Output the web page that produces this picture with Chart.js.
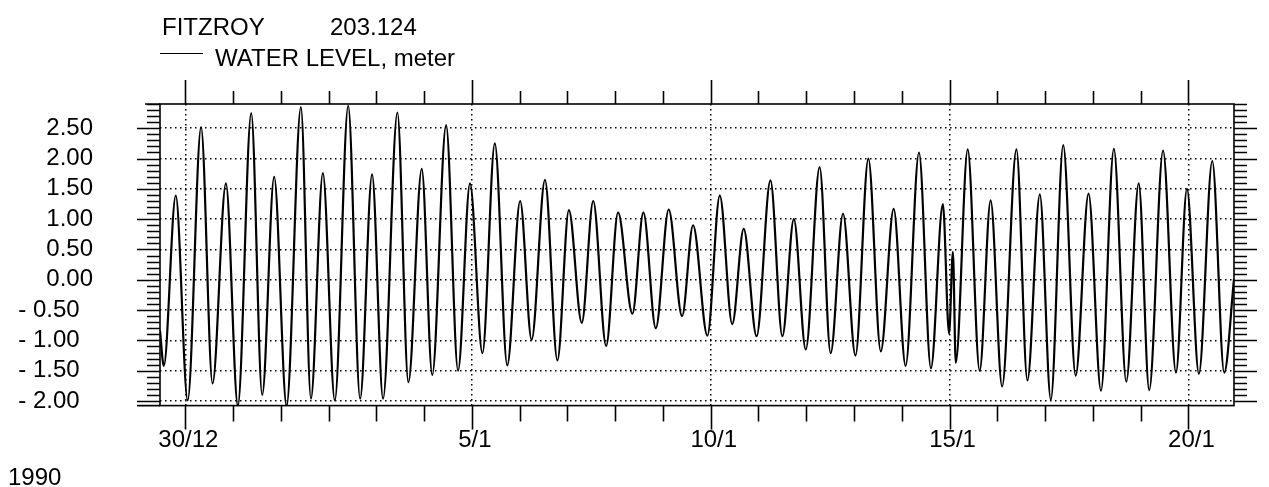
<!DOCTYPE html>
<html>
<head>
<meta charset="utf-8">
<title>FITZROY 203.124</title>
<script src="https://cdn.jsdelivr.net/npm/chart.js@4/dist/chart.umd.min.js"></script>
<style>
  html, body { margin: 0; padding: 0; background: #fff; }
  canvas { display: block; }
</style>
</head>
<body>
<canvas id="levelChart" width="1269" height="487"></canvas>
<script>
// --- Data: water level extremes, time in days from 30/12/1989 00:00 ---
const levelDays = [
  -0.53, -0.45, -0.20, 0.05, 0.33, 0.57, 0.85, 1.10, 1.38, 1.61,
  1.86, 2.12, 2.42, 2.63, 2.88, 3.13, 3.41, 3.66, 3.91, 4.14,
  4.44, 4.67, 4.95, 5.17, 5.46, 5.71, 5.96, 6.22, 6.48, 6.74,
  7.01, 7.25, 7.53, 7.79, 8.03, 8.30, 8.54, 8.81, 9.06, 9.36,
  9.59, 9.85, 10.12, 10.40, 10.63, 10.93, 11.19, 11.45, 11.69, 11.96,
  12.25, 12.50, 12.74, 12.99, 13.28, 13.51, 13.77, 14.03, 14.30, 14.56,
  14.83, 15.08, 15.36, 15.61, 15.86, 15.99, 16.07, 16.13, 16.38, 16.63,
  16.86, 17.10, 17.40, 17.63, 17.89, 18.12, 18.38, 18.64, 18.91, 19.17,
  19.44, 19.70, 19.96, 20.18, 20.47, 20.74, 20.97, 21.22, 21.50, 21.75,
  21.955
];
const levelValues = [
  -0.84, -1.42, 1.39, -1.99, 2.52, -1.71, 1.59, -2.08, 2.75, -1.90,
  1.70, -2.08, 2.85, -1.96, 1.76, -1.99, 2.87, -1.96, 1.74, -1.96,
  2.76, -1.69, 1.83, -1.57, 2.55, -1.50, 1.59, -1.21, 2.25, -1.41,
  1.30, -0.99, 1.65, -1.33, 1.15, -0.71, 1.30, -1.09, 1.11, -0.56,
  1.11, -0.80, 1.16, -0.60, 0.90, -0.92, 1.39, -0.73, 0.84, -0.93,
  1.64, -0.93, 1.00, -1.15, 1.86, -1.21, 1.09, -1.25, 2.00, -1.18,
  1.17, -1.42, 2.10, -1.46, 1.25, -0.89, 0.46, -1.37, 2.15, -1.50,
  1.31, -1.76, 2.15, -1.66, 1.41, -1.98, 2.22, -1.58, 1.42, -1.83,
  2.16, -1.68, 1.59, -1.82, 2.13, -1.53, 1.50, -1.55, 1.96, -1.53,
  0.01
];

// Axis ticks
const labelDays   = [0, 6, 11, 16, 21];
const dayLabels   = ['30/12', '5/1', '10/1', '15/1', '20/1'];
const levelTicks  = [-2.0, -1.5, -1.0, -0.5, 0.0, 0.5, 1.0, 1.5, 2.0, 2.5];

// Header texts
const stationName = 'FITZROY';
const stationCode = '203.124';
const seriesLabel = 'WATER LEVEL, meter';
const yearLabel   = '1990';

const ink  = '#000';
const FONT = '"Liberation Sans", Arial, sans-serif';

// --- Helper: level label, negatives written "- 0.50" ---
function levelLabel(v) {
  if (v >= 0) return v.toFixed(2);
  return '- ' + (-v).toFixed(2) + '  ';
}

// --- Frame, outside ticks and header ---
const framePlugin = {
  id: 'frame',
  afterDraw(chart) {
    const { ctx, chartArea: a, scales: { x, y } } = chart;
    ctx.save();
    ctx.strokeStyle = ink;
    ctx.lineWidth = 1.6;
    ctx.strokeRect(a.left, a.top, a.right - a.left, a.bottom - a.top);

    ctx.beginPath();
    ctx.moveTo(a.left - 23, a.bottom); ctx.lineTo(a.left, a.bottom);
    ctx.moveTo(a.left - 15, a.top);    ctx.lineTo(a.left, a.top);

    // one tick per day, below and above
    for (let d = 0; d <= 21; d++) {
      const px = Math.round(x.getPixelForValue(d)) + 0.5;
      const major = labelDays.includes(d);
      ctx.moveTo(px, a.bottom); ctx.lineTo(px, a.bottom + (major ? 24 : 16));
      ctx.moveTo(px, a.top);    ctx.lineTo(px, a.top - (major ? 24 : 13));
    }
    // 0.1 m ticks on both sides, longer every 0.5 m
    for (let k = -20; k <= 29; k++) {
      const py = Math.round(y.getPixelForValue(k / 10)) + 0.5;
      const len = k % 5 === 0 ? 23 : 13;
      ctx.moveTo(a.left - len, py); ctx.lineTo(a.left, py);
      ctx.moveTo(a.right, py);      ctx.lineTo(a.right + len, py);
    }
    ctx.stroke();

    // legend line
    ctx.lineWidth = 1;
    ctx.beginPath();
    ctx.moveTo(160, 53.5); ctx.lineTo(203, 53.5);
    ctx.stroke();

    ctx.fillStyle = ink;
    ctx.font = '24px ' + FONT;
    ctx.textBaseline = 'alphabetic';
    ctx.textAlign = 'left';
    ctx.fillText(stationName, 162, 35);
    ctx.fillText(stationCode, 330, 35);
    ctx.fillText(seriesLabel, 215, 66);
    ctx.fillText(yearLabel, 8, 485);
    ctx.restore();
  }
};

// --- Chart ---
const chart = new Chart(document.getElementById('levelChart'), {
  type: 'line',
  data: {
    datasets: [{
      label: seriesLabel,
      data: levelDays.map((d, i) => ({ x: d, y: levelValues[i] })),
      borderColor: ink,
      borderWidth: 2.2,
      pointRadius: 0,
      fill: false,
      cubicInterpolationMode: 'monotone'
    }]
  },
  options: {
    responsive: false,
    animation: false,
    devicePixelRatio: 1,
    layout: { padding: { left: 0, top: 104, right: 35, bottom: 0 } },
    plugins: {
      legend: { display: false },
      title: { display: false },
      tooltip: { enabled: false }
    },
    scales: {
      x: {
        type: 'linear',
        min: -0.53,
        max: 21.955,
        afterBuildTicks: axis => { axis.ticks = labelDays.map(v => ({ value: v })); },
        afterFit: axis => { axis.height = 69; },
        ticks: {
          color: ink,
          font: { family: FONT, size: 24 },
          padding: 20,
          labelOffset: 3,
          maxRotation: 0,
          autoSkip: false,
          callback: v => dayLabels[labelDays.indexOf(v)]
        },
        grid: { color: ink, lineWidth: 1.5, drawTicks: false },
        border: { display: false, dash: [1.5, 3.5] }
      },
      y: {
        min: -2.075,
        max: 2.9,
        afterBuildTicks: axis => { axis.ticks = levelTicks.map(v => ({ value: v })); },
        afterFit: axis => { axis.width = 160; },
        ticks: {
          color: ink,
          font: { family: FONT, size: 24 },
          padding: 67,
          autoSkip: false,
          callback: v => levelLabel(v)
        },
        grid: { color: ink, lineWidth: 1.5, drawTicks: false },
        border: { display: false, dash: [1.5, 3.5] }
      }
    }
  },
  plugins: [framePlugin]
});
</script>
</body>
</html>
